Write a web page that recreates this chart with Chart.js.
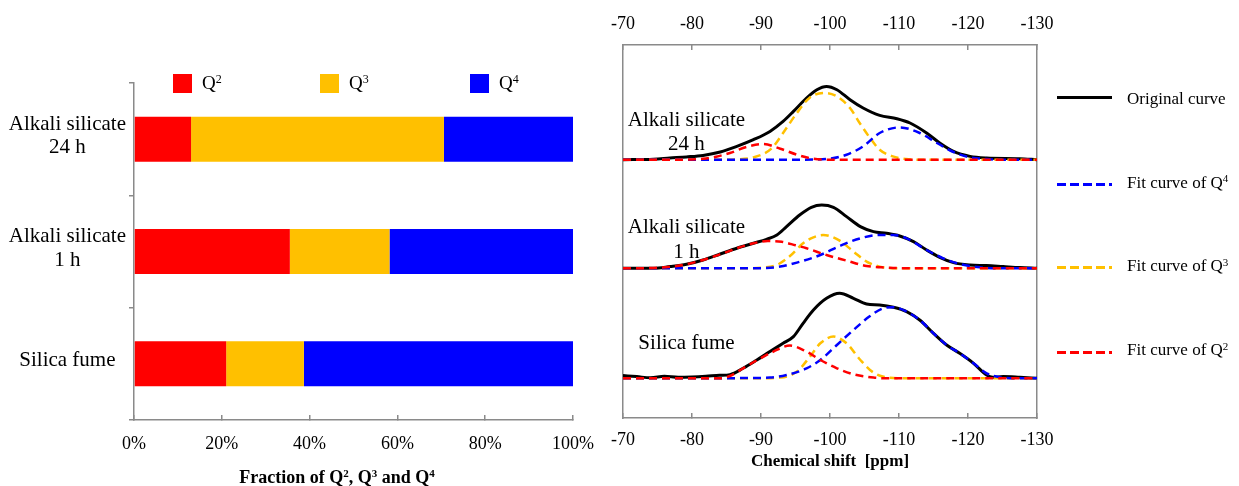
<!DOCTYPE html>
<html><head><meta charset="utf-8">
<script src="https://cdn.jsdelivr.net/npm/chart.js@4.4.0/dist/chart.umd.min.js"></script>
<style>
html,body{margin:0;padding:0;background:#fff;width:1239px;height:486px;overflow:hidden;}
#left{position:absolute;left:0;top:0;width:610px;height:486px;}
#right{position:absolute;left:600px;top:0;width:639px;height:486px;}
</style></head><body>
<div id="left"><canvas id="cl" width="610" height="486"></canvas></div>
<div id="right"><canvas id="cr" width="639" height="486"></canvas></div>
<script>
// ---------- Left chart data (fractions, %) ----------
const sampleLabels = [['Alkali silicate', '24 h'], ['Alkali silicate', '1 h'], 'Silica fume'];
const seriesNames = ['Q²', 'Q³', 'Q⁴'];
const q2Fraction = [13.0, 35.5, 21.0];
const q3Fraction = [57.6, 22.7, 17.7];
const q4Fraction = [29.4, 41.8, 61.3];
const fractionAxisTitle = 'Fraction of Q², Q³ and Q⁴';

// ---------- Right chart data ([chemical shift ppm, intensity above baseline]) ----------
const shiftTicks = [-70, -80, -90, -100, -110, -120, -130];
const spectrumNames = [['Alkali silicate', '24 h'], ['Alkali silicate', '1 h'], ['Silica fume']];
const spectrumBaselines = [258.3, 149.7, 39.7];
const legendNames = ['Original curve', 'Fit curve of Q⁴', 'Fit curve of Q³', 'Fit curve of Q²'];

const orig24 = [[-70,0],[-74.4,0.5],[-76.8,1.7],[-79.2,2.8],[-81.6,4.3],[-84.1,7.7],[-86.5,13.3],[-88.9,20],[-91.3,28.3],[-93.2,38.3],[-94.7,48.3],[-96.6,61.7],[-98.1,70],[-99.5,73.3],[-101,70],[-102.9,60],[-104.8,51.7],[-107.2,44.3],[-109.7,41],[-111.6,36.7],[-114,26.7],[-115.9,16.7],[-117.9,8.3],[-120.3,3.3],[-122.7,1.7],[-127.5,1],[-130,0]];
const q4fit24 = [[-70,0],[-95,0],[-99.5,0.7],[-102.4,5],[-104.8,13.3],[-107.2,26.7],[-110.1,32.3],[-113,26.7],[-115.5,16.7],[-117.9,7.7],[-120.3,2.3],[-122.7,0.7],[-125,0],[-130,0]];
const q3fit24 = [[-70,0],[-84,0],[-86.4,0.3],[-88.9,2.3],[-91.5,11],[-93.2,26.7],[-95.2,46.7],[-97.1,62.3],[-99.3,66.7],[-101,63.3],[-102.9,51.7],[-104.3,36.7],[-105.8,21.7],[-107.2,10],[-109.1,3.3],[-111,0.7],[-113,0],[-130,0]];
const q2fit24 = [[-70,0],[-78,0],[-81.6,1],[-83.5,3],[-85.5,6.7],[-87.9,12.7],[-90.3,15.7],[-92.8,11],[-95.2,5],[-97.6,1],[-100,0],[-130,0]];

const orig1 = [[-70,0],[-74.4,0],[-76.8,1.7],[-79.2,4],[-81.6,8.3],[-84.1,14.3],[-86.5,20],[-88.9,25],[-90.8,29],[-92.3,33.3],[-93.7,41.7],[-95.6,53.3],[-97.3,61],[-98.8,63.3],[-100.5,61],[-102.4,51.7],[-104.4,41.7],[-106.3,36.7],[-108.2,35],[-110.1,32.3],[-112.1,26.7],[-114,18.3],[-115.9,11],[-117.9,5.7],[-120.3,3.3],[-122.7,2.7],[-125.1,1.7],[-127.5,0.7],[-130,0]];
const q4fit1 = [[-70,0],[-88,0],[-90.8,0.3],[-92.8,1.7],[-95.2,5.7],[-98.6,13.3],[-101.4,22.3],[-104.4,30],[-107.2,33.3],[-109.2,33.3],[-111.1,30],[-114,18.3],[-116.4,10],[-118.8,4.3],[-121.7,1],[-125,0],[-130,0]];
const q3fit1 = [[-70,0],[-88,0],[-90.3,0.7],[-92.3,3.3],[-94.2,12.3],[-96.1,25],[-97.6,31],[-99,33.3],[-100.3,31.5],[-101.4,27.7],[-103.4,16.7],[-105.3,6.7],[-107.2,1.7],[-110,0],[-130,0]];
const q2fit1 = [[-70,0],[-74.4,0.3],[-76.8,1.5],[-79.2,4],[-81.6,8.3],[-84.1,14],[-86.5,20],[-88.9,25],[-91,27.3],[-93,26.5],[-95,23],[-96.6,20],[-99.5,13.3],[-102.4,7.7],[-105.3,2.3],[-108.2,0.7],[-111,0],[-130,0]];

const origSF = [[-70,2.7],[-72,1.7],[-74,0.5],[-76,2],[-78,1],[-80,1.3],[-82,2],[-84,3],[-85.5,3.7],[-87.4,10],[-89.4,18.3],[-91.3,26.7],[-93.2,35],[-94.7,41.7],[-96.1,55],[-97.6,68.3],[-99.5,80],[-101.4,85],[-103.4,80],[-105.3,74.3],[-107.2,73.3],[-109.2,71],[-111.1,66.7],[-113,58.3],[-115,45],[-116.9,33.3],[-118.8,25],[-120.8,15],[-122.7,3.3],[-123.6,1],[-125.1,1.7],[-127.5,1],[-130,0]];
const q4fitSF = [[-70,0],[-85,0],[-88,0.3],[-91.3,0.7],[-93.7,3.3],[-96.6,10],[-98.6,18.3],[-101,33.3],[-103.4,48.3],[-105.7,61.7],[-107.7,70],[-109.2,71],[-111.1,66.7],[-113,58.3],[-115,45],[-116.9,33.3],[-118.8,25],[-120.8,15],[-122.7,5],[-124.6,1],[-127,0],[-130,0]];
const q3fitSF = [[-70,0],[-90,0],[-92.8,0.7],[-95.2,6.7],[-97.1,21.7],[-98.6,35],[-100.5,41.7],[-102.4,35],[-104.4,18.3],[-106.3,5.7],[-108.2,1],[-111,0],[-130,0]];
const q2fitSF = [[-70,0],[-84,0],[-85.5,2.3],[-87.4,10],[-89.4,18],[-91.8,26.7],[-94.2,32.7],[-96.6,26.7],[-98.6,18.3],[-101,10],[-103.4,4],[-106.3,0.7],[-109,0],[-130,0]];

// ---------- styles ----------
const SERIF = "'Liberation Serif', 'Times New Roman', serif";
const RED = '#FF0000', ORANGE = '#FFC000', BLUE = '#0000FF', BLACK = '#000000';
const AXIS_GRAY = '#8a8a8a';
const SUP = {'²': '2', '³': '3', '⁴': '4'};

function drawRich(ctx, text, x, baseline, size, weight, align) {
  const parts = [];
  for (const ch of text) {
    const sup = SUP[ch] !== undefined;
    const t = sup ? SUP[ch] : ch;
    if (parts.length && parts[parts.length - 1].sup === sup) parts[parts.length - 1].t += t;
    else parts.push({t, sup});
  }
  const fontFor = p => `${weight} ${p.sup ? Math.round(size * 0.62) : size}px ${SERIF}`;
  let total = 0;
  for (const p of parts) { ctx.font = fontFor(p); p.w = ctx.measureText(p.t).width; total += p.w; }
  let cx = align === 'center' ? x - total / 2 : (align === 'right' ? x - total : x);
  ctx.textAlign = 'left';
  ctx.textBaseline = 'alphabetic';
  for (const p of parts) {
    ctx.font = fontFor(p);
    ctx.fillText(p.t, cx, p.sup ? baseline - size * 0.3 : baseline);
    cx += p.w;
  }
}

// ---------- Left chart ----------
const leftDecor = {
  id: 'leftDecor',
  afterDraw(chart, args, opts) {
    const ctx = chart.ctx;
    ctx.save();
    chart.data.datasets.forEach((ds, i) => {
      ctx.fillStyle = ds.backgroundColor;
      ctx.fillRect(opts.boxX[i], opts.boxY, opts.boxSize, opts.boxSize);
      ctx.fillStyle = '#000';
      drawRich(ctx, ds.label, opts.boxX[i] + opts.boxSize + 10, opts.labelBaseline, 19, 'normal', 'left');
    });
    ctx.fillStyle = '#000';
    drawRich(ctx, fractionAxisTitle, opts.titleX, opts.titleBaseline, 18, 'bold', 'center');
    ctx.restore();
  }
};

new Chart(document.getElementById('cl'), {
  type: 'bar',
  data: {
    labels: sampleLabels,
    datasets: [
      {label: seriesNames[0], data: q2Fraction, backgroundColor: RED},
      {label: seriesNames[1], data: q3Fraction, backgroundColor: ORANGE},
      {label: seriesNames[2], data: q4Fraction, backgroundColor: BLUE}
    ]
  },
  plugins: [leftDecor],
  options: {
    indexAxis: 'y',
    responsive: false,
    animation: false,
    layout: {padding: {top: 83, right: 37, left: 0, bottom: 0}},
    datasets: {bar: {barPercentage: 0.5, categoryPercentage: 0.8}},
    plugins: {
      legend: {display: false},
      tooltip: {enabled: false},
      leftDecor: {boxX: [173, 320, 470], boxY: 74, boxSize: 19, labelBaseline: 88.5, titleX: 337, titleBaseline: 482.5}
    },
    scales: {
      x: {
        stacked: true, min: 0, max: 100,
        ticks: {stepSize: 20, callback: v => v + '%', color: '#000', font: {family: SERIF, size: 18}, padding: 18, maxRotation: 0},
        grid: {display: true, drawOnChartArea: false, drawTicks: true, tickLength: -5, color: AXIS_GRAY, lineWidth: 1.5},
        border: {display: true, color: AXIS_GRAY, width: 1.5},
        afterFit(s) { s.height = 66; s.paddingLeft = 0; s.paddingRight = 0; }
      },
      y: {
        stacked: true,
        ticks: {color: '#000', font: {family: SERIF, size: 21, lineHeight: 1.1}, crossAlign: 'center', padding: 3, labelOffset: -3},
        grid: {display: true, offset: true, drawOnChartArea: false, tickLength: 5, color: AXIS_GRAY, lineWidth: 1.5},
        border: {display: true, color: AXIS_GRAY, width: 1.5},
        afterFit(s) { s.width = 134; s.paddingTop = 0; s.paddingBottom = 0; }
      }
    }
  }
});

// ---------- Right chart ----------
const spectra = [
  {orig: orig24, q4: q4fit24, q3: q3fit24, q2: q2fit24},
  {orig: orig1, q4: q4fit1, q3: q3fit1, q2: q2fit1},
  {orig: origSF, q4: q4fitSF, q3: q3fitSF, q2: q2fitSF}
];
const curveStyles = {
  orig: {color: BLACK, width: 3, dash: [], order: 3},
  q4: {color: BLUE, width: 2.5, dash: [8, 5], order: 2},
  q3: {color: ORANGE, width: 2.5, dash: [8, 5], order: 2},
  q2: {color: RED, width: 2.5, dash: [8, 5], order: 1}
};
const legendKeys = ['orig', 'q4', 'q3', 'q2'];

const nmrDatasets = [];
spectra.forEach((sp, si) => {
  ['orig', 'q4', 'q3', 'q2'].forEach(key => {
    const st = curveStyles[key];
    nmrDatasets.push({
      label: key + '-' + si,
      data: sp[key].map(([x, h]) => ({x, y: h + spectrumBaselines[si]})),
      borderColor: st.color,
      borderWidth: st.width,
      borderDash: st.dash,
      cubicInterpolationMode: 'monotone',
      pointRadius: 0,
      fill: false,
      order: st.order
    });
  });
});

const rightDecor = {
  id: 'rightDecor',
  afterDraw(chart, args, opts) {
    const ctx = chart.ctx;
    const xs = chart.scales.x;
    ctx.save();
    ctx.fillStyle = '#000';
    // sample names inside the plot
    spectrumNames.forEach((lines, si) => {
      const cx = xs.getPixelForValue(opts.nameShift);
      lines.forEach((ln, li) => {
        drawRich(ctx, ln, cx, opts.nameBaselines[si][li], 21, 'normal', 'center');
      });
    });
    // legend
    legendKeys.forEach((key, i) => {
      const st = curveStyles[key];
      ctx.beginPath();
      ctx.setLineDash(key === 'orig' ? [] : [9, 4]);
      ctx.strokeStyle = st.color;
      ctx.lineWidth = 3;
      ctx.moveTo(opts.lineX0, opts.lineY[i]);
      ctx.lineTo(opts.lineX1, opts.lineY[i]);
      ctx.stroke();
      ctx.setLineDash([]);
      ctx.fillStyle = '#000';
      drawRich(ctx, legendNames[i], opts.textX, opts.textBaseline[i], 17, 'normal', 'left');
    });
    ctx.restore();
  }
};

const xCommon = {
  type: 'linear', min: -130, max: -70, reverse: true,
  grid: {display: true, drawOnChartArea: false, drawTicks: true, tickLength: -5, color: AXIS_GRAY, lineWidth: 1.5},
  border: {display: true, color: AXIS_GRAY, width: 1.5}
};

new Chart(document.getElementById('cr'), {
  type: 'line',
  data: {datasets: nmrDatasets},
  plugins: [rightDecor],
  options: {
    responsive: false,
    animation: false,
    layout: {padding: 0},
    plugins: {
      legend: {display: false},
      tooltip: {enabled: false},
      rightDecor: {
        nameShift: -79.2,
        nameBaselines: [[125.5, 150], [233, 257.5], [348.5]],
        lineX0: 457, lineX1: 512,
        lineY: [97.5, 184.5, 267.5, 352.5],
        textX: 527,
        textBaseline: [103.5, 187.5, 271, 355]
      }
    },
    scales: {
      x: Object.assign({}, xCommon, {
        position: 'bottom',
        ticks: {stepSize: 10, callback: v => String(v), color: '#000', font: {family: SERIF, size: 18}, padding: 16, maxRotation: 0, autoSkip: false},
        title: {display: true, text: 'Chemical shift  [ppm]', color: '#000', font: {family: SERIF, size: 17, weight: 'bold'}, padding: {top: 0, bottom: 14}},
        afterBuildTicks(s) { s.ticks = shiftTicks.map(v => ({value: v})); },
        afterFit(s) { s.height = 68; s.paddingLeft = 0; s.paddingRight = 0; }
      }),
      x2: Object.assign({}, xCommon, {
        position: 'top',
        ticks: {stepSize: 10, callback: v => String(v), color: '#000', font: {family: SERIF, size: 18}, padding: 15, maxRotation: 0, autoSkip: false},
        afterBuildTicks(s) { s.ticks = shiftTicks.map(v => ({value: v})); },
        afterFit(s) { s.height = 45; s.paddingLeft = 0; s.paddingRight = 0; }
      }),
      y: {
        position: 'left', min: 0, max: 373,
        ticks: {display: false}, grid: {display: false},
        border: {display: true, color: AXIS_GRAY, width: 1.5},
        afterFit(s) { s.width = 23; s.paddingTop = 0; s.paddingBottom = 0; }
      },
      y2: {
        position: 'right', min: 0, max: 373,
        ticks: {display: false}, grid: {display: false},
        border: {display: true, color: AXIS_GRAY, width: 1.5},
        afterFit(s) { s.width = 202; s.paddingTop = 0; s.paddingBottom = 0; }
      }
    }
  }
});
</script>
</body></html>
